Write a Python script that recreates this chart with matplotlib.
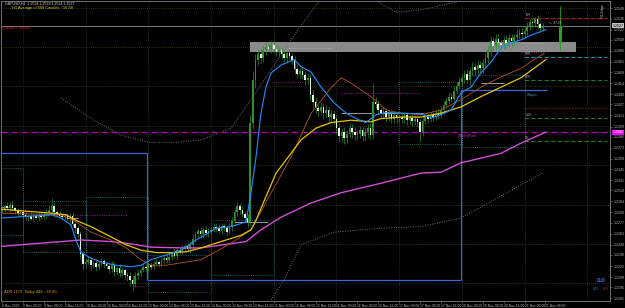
"""
GBPUSD H1 trading terminal screenshot, redrawn with matplotlib.
Prices are kept in pips above BASE and converted when drawn.
"""
import numpy as np
import matplotlib
matplotlib.use("Agg")
import matplotlib.pyplot as plt
import matplotlib.transforms as mtransforms
from matplotlib.patches import Rectangle

plt.rcParams['font.family'] = ['Liberation Sans', 'DejaVu Sans']

BASE = 1.2
PIP = 0.0001

# ── candles (H1, pips above BASE) ──────────────────────────────
FIRST_OPEN = 292
CLOSE = [
    294, 298, 296, 300, 295, 292, 289, 290,
    287, 284, 286, 282, 285, 283, 287, 284,
    285, 289, 293, 298, 290, 288, 286, 284,
    285, 282, 286, 275, 270, 262, 237, 225,
    227, 230, 223, 226, 221, 225, 228, 224,
    222, 218, 223, 215, 219, 213, 217, 211,
    209, 204, 199, 209, 213, 217, 221, 219,
    223, 221, 225, 227, 225, 230, 232, 229,
    234, 238, 235, 242, 240, 244, 247, 243,
    249, 256, 262, 266, 262, 268, 264, 266,
    268, 272, 270, 266, 273, 270, 265, 271,
    279, 290, 298, 293, 288, 283, 278, 404,
    458, 483, 491, 486, 496, 500, 498, 503,
    498, 494, 496, 491, 486, 492, 488, 484,
    472, 466, 469, 464, 458, 461, 439, 430,
    422, 419, 424, 416, 420, 411, 415, 409,
    397, 387, 392, 385, 390, 397, 392, 388,
    390, 394, 387, 392, 397, 388, 430, 428,
    420, 416, 419, 411, 415, 409, 413, 410,
    411, 409, 413, 407, 410, 406, 409, 405,
    392, 406, 411, 409, 413, 411, 416, 414,
    420, 426, 432, 437, 434, 444, 451, 456,
    460, 466, 458, 469, 475, 471, 477, 473,
    479, 486, 496, 507, 501, 510, 505, 503,
    509, 505, 511, 507, 512, 515, 518, 516,
    520, 527, 532, 530, 535, 529, 524, 527,
]
WICK_UP = [
    4, 3, 5, 3, 4, 2, 3, 4,   3, 4, 2, 5, 3, 4, 3, 3,
    4, 5, 6, 10, 4, 3, 4, 3,  3, 4, 3, 4, 3, 4, 5, 4,
    4, 5, 3, 4, 5, 3, 4, 3,   4, 3, 5, 4, 3, 5, 4, 3,
    4, 5, 6, 5, 4, 3, 4, 3,   3, 4, 3, 4, 3, 4, 3, 4,
    4, 3, 5, 3, 4, 5, 3, 4,   5, 6, 5, 4, 5, 4, 5, 4,
    4, 5, 4, 5, 4, 3, 4, 5,   5, 6, 5, 4, 5, 4, 5, 10,
    12, 8, 6, 7, 5, 6, 5, 4,  5, 4, 5, 4, 5, 4, 5, 4,
    5, 6, 5, 6, 5, 6, 5, 6,   6, 5, 6, 5, 6, 5, 6, 5,
    5, 6, 5, 6, 5, 6, 5, 6,   5, 6, 5, 6, 5, 6, 24, 6,
    5, 4, 5, 4, 5, 4, 5, 4,   4, 5, 4, 5, 4, 5, 4, 5,
    4, 5, 4, 5, 4, 5, 4, 5,   5, 6, 5, 6, 5, 6, 5, 6,
    6, 5, 6, 5, 6, 5, 6, 5,   6, 7, 6, 7, 6, 7, 6, 5,
    5, 6, 5, 6, 5, 6, 5, 6,   5, 5, 4, 4, 3, 5, 4, 3,
]
WICK_DN = [
    3, 4, 2, 5, 3, 4, 3, 2,   4, 3, 5, 2, 4, 3, 4, 3,
    3, 2, 4, 3, 6, 4, 3, 4,   4, 3, 5, 4, 6, 5, 6, 8,
    5, 3, 6, 4, 5, 4, 3, 5,   4, 5, 3, 6, 4, 5, 4, 6,
    6, 7, 7, 4, 3, 4, 3, 4,   3, 4, 3, 3, 4, 3, 4, 3,
    3, 4, 3, 4, 3, 3, 4, 3,   4, 5, 4, 5, 4, 5, 4, 5,
    4, 3, 5, 4, 3, 4, 5, 3,   4, 5, 4, 5, 4, 5, 6, 5,
    8, 10, 6, 7, 5, 6, 5, 6,  5, 6, 5, 6, 5, 6, 5, 6,
    6, 5, 6, 5, 6, 5, 8, 7,   6, 7, 6, 7, 6, 7, 6, 7,
    7, 8, 7, 8, 7, 6, 7, 6,   6, 5, 6, 5, 6, 5, 5, 6,
    5, 6, 5, 6, 5, 6, 5, 6,   5, 6, 5, 6, 5, 6, 5, 6,
    12, 5, 4, 5, 4, 5, 4, 5,  4, 5, 4, 5, 4, 5, 4, 5,
    5, 6, 5, 6, 5, 6, 5, 6,   6, 5, 6, 7, 6, 5, 6, 5,
    5, 6, 5, 6, 5, 6, 5, 6,   5, 6, 5, 6, 5, 6, 5, 4,
]

# ── moving averages (candle index, pips) ───────────────────────
BLUE_X = [0, 19, 22.6, 26.4, 28.3, 30.2, 34, 38, 43.6, 49.4, 53.2, 57, 62.8, 68.5,
          74.3, 82, 87.7, 93.4, 95.3, 97.2, 99.1, 101, 103, 106.8, 111.8, 114.4,
          118.3, 122.1, 127.1, 131.7, 135.5, 139.3, 143.2, 147, 152.7, 160.4, 164.2,
          168, 171.9, 175.7, 179.5, 183.3, 187.2, 191, 194.8, 198.7, 202.5, 208.2]
BLUE_Y = [283, 287, 283, 274, 255, 239, 232, 227, 223, 221, 223, 230, 236, 242,
          255, 270, 272, 278, 315, 360, 416, 449, 467, 477, 484, 475,
          468, 449, 429, 416, 409, 404, 414, 417, 416, 415, 410,
          414, 420, 442, 449, 467, 481, 499, 505, 509, 515, 522]

YELLOW_X = [0, 19, 24.5, 28.3, 34, 41.7, 47.5, 53.2, 59, 64.7, 70.4, 76.2, 83.8,
            91.5, 95.3, 97.2, 101, 104.9, 110.6, 114.4, 120.2, 125.9, 133.6, 141.2,
            145, 152.7, 160.4, 168, 175.7, 183.3, 191, 198.7, 208.2]
YELLOW_Y = [294, 289, 287, 280, 272, 259, 249, 242, 239, 239, 240, 245, 253,
            261, 268, 280, 310, 340, 365, 382, 397, 404, 407, 405,
            409, 411, 411, 416, 424, 437, 449, 461, 484]

BROWN_X = [0, 22.6, 28.3, 34, 41.7, 47.5, 53.2, 57, 62.8, 68.5, 76.2, 87.7, 95.3,
           103, 110.6, 118.3, 125.9, 129.8, 133.6, 141.2, 147, 152.7, 160.4, 168,
           175.7, 183.3, 191, 198.7, 207.5]
BROWN_Y = [289, 287, 278, 265, 255, 245, 230, 223, 223, 226, 230, 251, 268,
           315, 360, 416, 448, 461, 454, 437, 420, 416, 414, 420,
           433, 449, 462, 473, 492]

MAGENTA_X = [0, 22.6, 30.2, 41.7, 49.4, 57, 68.5, 76.2, 93.4, 99.1, 106.8, 118.3,
             129.8, 145, 160.4, 168, 175.7, 191, 198.7, 208.2]
MAGENTA_Y = [247, 253, 255, 253, 250, 246, 245, 245, 253, 268, 284, 302,
             315, 327, 340, 341, 353, 365, 378, 392]

# envelope (dotted gray)
UPPER_X = [22.6, 35.2, 45.6, 55.9, 66.6, 76.2, 87.7, 99.1, 113.3, 120.2, 125.9,
           139.3, 150.8, 160.4, 173.8, 179.5]
UPPER_Y = [435, 407, 388, 379, 379, 382, 397, 452, 522, 553, 572,
           566, 544, 547, 557, 570]
LOWER_X = [103, 107.9, 114.4, 127.1, 145.1, 160.4, 175.7, 191, 207.5]
LOWER_Y = [179, 204, 249, 265, 270, 272, 283, 311, 341]

# weekly open steps
WEEK_START = [-0.4, 55.5, 175.5]
WEEK_END = [55.5, 175.5, 208.5]
WEEK_LEVEL = [365, 204, 445]

# daily range boxes (start, end, low, high)
DAY_BOX = [(-0.4, 8, 261, 346), (8, 32, 240, 304), (32, 56, 240, 310),
           (56, 80, 189, 236), (80, 104, 211, 280),
           (152, 176, 377, 455), (176, 200, 373, 464)]

# short session lines
GRAY_SEG = [(-0.4, 2.3, 297), (25.3, 29.1, 283), (88.8, 101.8, 278), (108.7, 125.9, 499),
            (129.8, 142.4, 416), (145.1, 161.5, 416), (183.4, 192.2, 454), (198.7, 207.5, 505)]
PURPLE_SEG = [(7.3, 48.2, 287), (50.5, 54.4, 197), (103.7, 118.3, 456),
              (129.8, 160.4, 442), (198.7, 207.5, 494)]

# right-hand levels (label, pips, colour, style)
LEVELS = [("DH", 537, "#9a1f1f", "--"), ("50%", 487, "#1f86b0", "--"),
          ("38%", 458, "#1f7a1f", "--"), ("", 423, "#8a1f1f", ":"),
          ("23%", 410, "#1f7a1f", "--"), ("0%", 381, "#1f7a1f", "--")]
PIVOT = 392
BID = 527
ZONE = (94.9, 219.7, 494, 506)
DAILY_OHLC = (505, 552, 496, 527)

ROUND_LEVELS = [1.2550, 1.2500, 1.2450, 1.2400, 1.2350, 1.2300, 1.2250, 1.2200]
DAY_STARTS = [8, 32, 56, 80, 104, 128, 152, 176, 200, 224]

PRICE_TICKS = [1.2549, 1.2536, 1.2522, 1.2509, 1.2495, 1.2481, 1.2468, 1.2454,
               1.2440, 1.2427, 1.2413, 1.2399, 1.2386, 1.2372, 1.2358, 1.2345,
               1.2331, 1.2318, 1.2304, 1.2290, 1.2277, 1.2263, 1.2249, 1.2236,
               1.2222, 1.2208, 1.2195, 1.2181]
TIME_LABELS = ["8 Nov 2023", "9 Nov 00:00", "9 Nov 08:00", "9 Nov 16:00",
               "10 Nov 00:00", "10 Nov 08:00", "10 Nov 16:00", "13 Nov 00:00",
               "13 Nov 08:00", "13 Nov 16:00", "14 Nov 00:00", "14 Nov 08:00",
               "14 Nov 16:00", "15 Nov 00:00", "15 Nov 08:00", "15 Nov 16:00",
               "16 Nov 00:00", "16 Nov 08:00", "16 Nov 16:00", "17 Nov 00:00",
               "17 Nov 08:00", "17 Nov 16:00", "20 Nov 00:00", "20 Nov 08:00",
               "20 Nov 16:00", "21 Nov 00:00", "21 Nov 08:00"]


def pr(v):
    return BASE + np.asarray(v, dtype=float) * PIP


W, H = 625, 308
fig = plt.figure(figsize=(W / 100, H / 100), dpi=100, facecolor="black")
ax = fig.add_axes([1 / W, 7 / H, 609 / W, 300 / H])
ax.set_facecolor("black")
ax.set_xlim(-0.4, 232.7)
ax.set_ylim(pr(177.6), pr(558.3))

# grid
for d in DAY_STARTS:
    ax.axvline(d, color="#4a4a4a", lw=0.5, ls=(0, (1, 2)), zorder=0)
for lv in ROUND_LEVELS:
    ax.axhline(lv, color="#5c5c22", lw=0.5, ls=(0, (1, 2)), zorder=0)

# zone box
ax.add_patch(Rectangle((ZONE[0], pr(ZONE[2])), ZONE[1] - ZONE[0], (ZONE[3] - ZONE[2]) * PIP,
                       facecolor="#8a8a8a", edgecolor="none", zorder=1))

# daily boxes
for x0, x1, lo, hi in DAY_BOX:
    ax.add_patch(Rectangle((x0, pr(lo)), x1 - x0, (hi - lo) * PIP, fill=False,
                           edgecolor="#1c7a7a", lw=0.6, ls=(0, (1, 1.5)), zorder=1))

for x0, x1, y in GRAY_SEG:
    ax.hlines(pr(y), x0, x1, color="#9a9a9a", lw=0.7, zorder=2)
for x0, x1, y in PURPLE_SEG:
    ax.hlines(pr(y), x0, x1, color="#8b1f8b", lw=0.7, ls=(0, (1, 1.5)), zorder=2)

# weekly open steps
blue_step = "#3f63d8"
for i, (s, e, lv) in enumerate(zip(WEEK_START, WEEK_END, WEEK_LEVEL)):
    ax.hlines(pr(lv), s, e, color=blue_step, lw=0.9, zorder=2)
    if i > 0:
        ax.vlines(s, pr(WEEK_LEVEL[i - 1]), pr(lv), color=blue_step, lw=0.9, zorder=2)

# right-side levels
for lab, lv, col, st in LEVELS:
    ls = (0, (4, 2)) if st == "--" else (0, (1, 1.5))
    ax.hlines(pr(lv), 199.8, 231.5, color=col, lw=0.8, ls=ls, zorder=2)
    if lab:
        ax.text(200.3, pr(lv + 1.5), lab, color="#b0b0b0", fontsize=2.4, va="bottom", zorder=6)
ax.text(200.8, pr(442), "Wopen", color="#3fa0c0", fontsize=2.4, va="top", zorder=6)

ax.axhline(pr(PIVOT), color="#b400b4", lw=0.9, ls=(0, (5, 3)), zorder=2)
ax.text(174.5, pr(PIVOT - 2), "WeeklyPivot", color="#c040c0", fontsize=2.4, va="top", zorder=6)
ax.axhline(pr(BID), color="#8c8c8c", lw=0.6, zorder=2)

# envelope
ax.plot(UPPER_X, pr(UPPER_Y), color="#6e6e6e", lw=0.7, ls=(0, (1, 1.5)), zorder=2)
ax.plot(LOWER_X, pr(LOWER_Y), color="#6e6e6e", lw=0.7, ls=(0, (1, 1.5)), zorder=2)

# candles
c = np.array(CLOSE, dtype=float)
o = np.r_[FIRST_OPEN, c[:-1]]
hi = np.maximum(o, c) + np.array(WICK_UP)
lo = np.minimum(o, c) - np.array(WICK_DN)
idx = np.arange(len(c))
bull = c >= o
ax.vlines(idx, pr(lo), pr(hi), color="#2c8a2c", lw=0.5, zorder=3)
ax.bar(idx, np.maximum(np.abs(c - o), 0.8) * PIP, bottom=pr(np.minimum(o, c)), width=0.62,
       color=np.where(bull, "#2f8f2f", "#e4f7e4"), lw=0, zorder=4)

# moving averages
ax.plot(MAGENTA_X, pr(MAGENTA_Y), color="#cf4fd6", lw=1.0, zorder=5)
ax.plot(BROWN_X, pr(BROWN_Y), color="#b4541e", lw=0.6, zorder=5)
ax.plot(YELLOW_X, pr(YELLOW_Y), color="#e6c300", lw=0.9, zorder=5)
ax.plot(BLUE_X, pr(BLUE_Y), color="#1e8fff", lw=0.8, zorder=5)

# daily candle projection
do, dh, dl, dc = DAILY_OHLC
ax.vlines(213.6, pr(dl), pr(dh), color="#22a022", lw=0.6, zorder=4)
ax.bar(213.6, (dc - do) * PIP, bottom=pr(do), width=1.2, color="#22a022", lw=0, zorder=4)
ax.text(209.3, pr(BID + 1), "<- 37:25", color="#c8c8c8", fontsize=2.4, va="bottom", zorder=6)
ax.text(230.2, pr(546), "H1 Edge", color="#bbbbbb", fontsize=2.6, rotation=90, ha="center",
        va="center", zorder=6)

# corner readouts
ax.text(231.0, pr(203), "0.0", color="#3a6ee8", fontsize=4.6, ha="right", va="center",
        fontweight="bold", zorder=6)
ax.text(228.2, pr(193), "0.0", color="#3a6ee8", fontsize=3.0, ha="right", va="center", zorder=6)
ax.text(232.2, pr(193), "0.0", color="#c02020", fontsize=3.0, ha="right", va="center", zorder=6)

# axes styling
for sp in ax.spines.values():
    sp.set_color("#808080")
    sp.set_linewidth(0.6)
ax.yaxis.tick_right()
ax.set_yticks(PRICE_TICKS)
ax.set_yticklabels([f"{v:.4f}" for v in PRICE_TICKS])
ax.tick_params(axis="y", length=1.5, width=0.4, colors="#808080", labelcolor="#b4b4b4",
               labelsize=2.6, pad=1)
ax.set_xticks(np.arange(len(TIME_LABELS)) * 8)
ax.set_xticklabels(TIME_LABELS)
ax.tick_params(axis="x", length=1.5, width=0.4, colors="#808080", labelcolor="#b4b4b4",
               labelsize=2.4, pad=0.8)
for t in ax.get_xticklabels():
    t.set_ha("left")

trans = mtransforms.blended_transform_factory(ax.transAxes, ax.transData)
ax.text(1.004, pr(BID), f"{pr(BID):.4f}", transform=trans, color="black", fontsize=2.6,
        va="center", ha="left", bbox=dict(fc="#c0c0c0", ec="none", pad=0.4), zorder=7,
        clip_on=False)
ax.text(1.004, pr(PIVOT), f"{pr(PIVOT):.4f}", transform=trans, color="white", fontsize=2.6,
        va="center", ha="left", bbox=dict(fc="#ff00ff", ec="none", pad=0.4), zorder=7,
        clip_on=False)

# header / info texts
fig.text(5 / W, 1 - 4 / H, "GBPUSD,H1  1.2524 1.2529 1.2514 1.2527", color="#d0d0d0",
         fontsize=2.6, va="center")
fig.text(12 / W, 1 - 8 / H, "H1 Average of 500 Candles : 16.38", color="#d8d820",
         fontsize=2.8, va="center")
fig.text(2 / W, 1 - 28 / H, "Spread: 0 points", color="#d01818", fontsize=2.8, va="center")
fig.text(4 / W, 1 - 292 / H, "ADR 1173  Today 446 - 38.0%", color="#e69a10", fontsize=2.9,
         va="center")

fig.savefig("out.png", dpi=100, facecolor="black")
